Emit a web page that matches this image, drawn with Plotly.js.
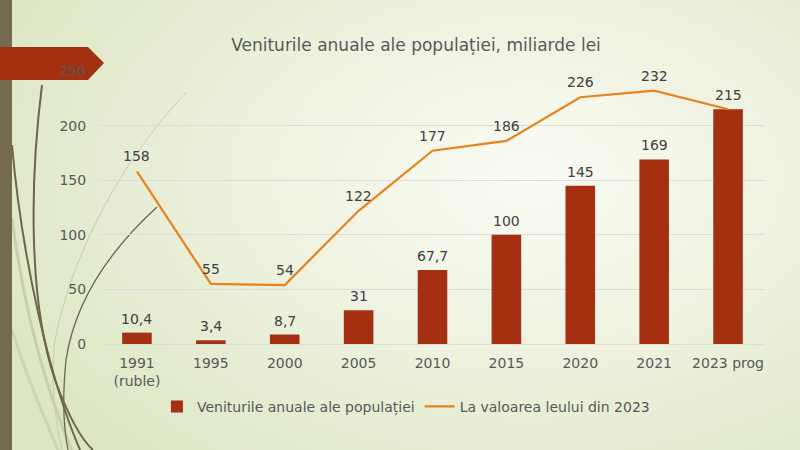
<!DOCTYPE html>
<html>
<head>
<meta charset="utf-8">
<script src="https://cdn.plot.ly/plotly-3.0.1.min.js"></script>
<style>
  html, body { margin:0; padding:0; width:800px; height:450px; overflow:hidden; }
  body { background: radial-gradient(ellipse 75% 85% at 66% 40%, #fafbf3 0%, #eef2df 45%, #dce6c2 100%); position:relative; }
  #deco { position:absolute; left:0; top:0; width:800px; height:450px; z-index:0; }
  #chart { position:absolute; left:0; top:0; width:800px; height:450px; z-index:1; }
</style>
</head>
<body>
<svg id="deco" width="800" height="450" viewBox="0 0 800 450">
  <path d="M12,218 C25,320 50,400 72,450" stroke="#c9cfae" stroke-width="3" fill="none"/>
  <path d="M12,330 C28,380 45,420 58,450" stroke="#cdd3b3" stroke-width="3" fill="none"/>
  <path d="M187,92 C120,160 70,260 55,340 C50,380 55,420 62,450" stroke="#c8ccb4" stroke-width="1" fill="none"/>
  <path d="M157,207 C110,250 75,300 66,360 C62,400 64,430 68,450" stroke="#6e654a" stroke-width="1.3" fill="none"/>
  <path d="M12,145 C22,260 50,380 80,450" stroke="#6e654a" stroke-width="2" fill="none"/>
  <path d="M42,85 C30,180 28,300 55,380 C68,415 82,440 93,450" stroke="#6e654a" stroke-width="2" fill="none"/>
  <rect x="0" y="0" width="12" height="450" fill="#736a50"/>
  <path d="M0,47 L88,47 L104,63 L88,80 L0,80 Z" fill="#a5300f"/>
</svg>
<div id="chart"></div>
<script>
const categories = ['1991<br>(ruble)', '1995', '2000', '2005', '2010', '2015', '2020', '2021', '2023 prog'];
const incomeValues = [10.4, 3.4, 8.7, 31, 67.7, 100, 145, 169, 215];
const incomeLabels = ['10,4', '3,4', '8,7', '31', '67,7', '100', '145', '169', '215'];
const realValues = [158, 55, 54, 122, 177, 186, 226, 232, 215];
const realLabels = ['158', '55', '54', '122', '177', '186', '226', '232', '215'];
const yTicks = [0, 50, 100, 150, 200, 250];

const fontFamily = 'DejaVu Sans, sans-serif';
const textColor = '#595959';
const labelColor = '#404040';

const traces = [
  {
    type: 'bar',
    name: 'Veniturile anuale ale populației',
    x: categories,
    y: incomeValues,
    marker: { color: '#a42f11' },
    hoverinfo: 'skip'
  },
  {
    type: 'scatter',
    mode: 'lines',
    name: 'La valoarea leului din 2023',
    x: categories,
    y: realValues,
    line: { color: '#e8821e', width: 2.2 },
    hoverinfo: 'skip'
  }
];

// data labels (line label hidden where it coincides with the bar label)
// on a category axis, annotations are placed by category index
const annotations = [];
categories.forEach((c, i) => {
  annotations.push({
    x: i, y: incomeValues[i], xref: 'x', yref: 'y',
    text: incomeLabels[i], showarrow: false,
    yanchor: 'middle', yshift: 14,
    font: { family: fontFamily, size: 14, color: labelColor }
  });
  if (realValues[i] !== incomeValues[i]) {
    annotations.push({
      x: i, y: realValues[i], xref: 'x', yref: 'y',
      text: realLabels[i], showarrow: false,
      yanchor: 'middle', yshift: 15,
      font: { family: fontFamily, size: 14, color: labelColor }
    });
  }
});

const layout = {
  width: 800,
  height: 450,
  paper_bgcolor: 'rgba(0,0,0,0)',
  plot_bgcolor: 'rgba(0,0,0,0)',
  margin: { l: 100, r: 35, t: 71, b: 106 },
  font: { family: fontFamily, color: textColor, size: 14 },
  title: {
    text: 'Veniturile anuale ale populației, miliarde lei',
    font: { family: fontFamily, size: 17, color: textColor },
    x: 0.52, xref: 'container', xanchor: 'center',
    y: 0.9, yref: 'container', yanchor: 'middle'
  },
  bargap: 0.6,
  showlegend: true,
  legend: {
    orientation: 'h',
    x: 0.46, xanchor: 'center',
    y: -0.23, yanchor: 'middle',
    font: { family: fontFamily, size: 14, color: textColor },
    bgcolor: 'rgba(0,0,0,0)',
    traceorder: 'normal'
  },
  annotations: annotations,
  xaxis: {
    type: 'category',
    categoryorder: 'array',
    categoryarray: categories,
    showgrid: false,
    zeroline: false,
    showline: false,
    ticks: 'outside',
    ticklen: 6,
    tickcolor: 'rgba(0,0,0,0)',
    tickfont: { family: fontFamily, size: 14, color: textColor }
  },
  yaxis: {
    range: [0, 250],
    tickvals: yTicks,
    ticktext: yTicks.map(String),
    showgrid: true,
    gridcolor: '#dcdcdc',
    gridwidth: 1,
    zeroline: true,
    zerolinecolor: '#dcdcdc',
    zerolinewidth: 1,
    showline: false,
    ticks: 'outside',
    ticklen: 10,
    tickcolor: 'rgba(0,0,0,0)',
    tickfont: { family: fontFamily, size: 14, color: textColor }
  }
};

Plotly.newPlot('chart', traces, layout, { displayModeBar: false, staticPlot: true });
</script>
</body>
</html>
